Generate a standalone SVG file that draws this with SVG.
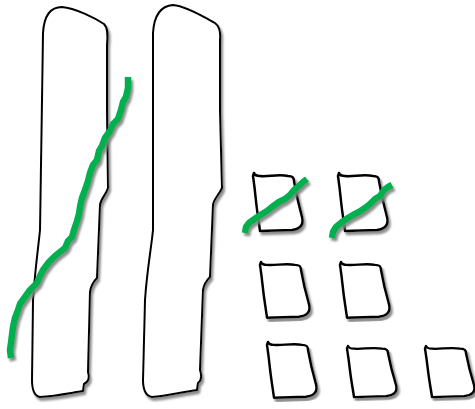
<svg xmlns="http://www.w3.org/2000/svg" xmlns:xlink="http://www.w3.org/1999/xlink" width="475" height="409" viewBox="0 0 475 409">
<defs>
<filter id="sh" x="-20%" y="-20%" width="140%" height="140%">
<feDropShadow dx="2" dy="3" stdDeviation="0.8" flood-color="#808080" flood-opacity="0.9"/>
</filter>
<path id="sq" d="M1,3 L2,0 Q3,3 8,3 C16,4 26,1 36,3 C40,3 42,4 42,8 C44,20 47,33 50,44 C52,52 48,56 40,57 L8,58 C7,50 5,38 4,28 C3,18 2,10 1,3 Z"/>
</defs>
<style>
.out{fill:#fff;stroke:#000;stroke-width:2;stroke-linejoin:round;filter:url(#sh)}
.sm{fill:#fff;stroke:#000;stroke-width:2.5;stroke-linejoin:round;filter:url(#sh)}
.gr{fill:none;stroke:#00b050;stroke-width:6.5;stroke-linejoin:round;filter:url(#sh)}
</style>
<g id="bar1">
<path class="out" d="M43,33 C44,16 50,7 62,7 C75,8 95,18 104,24 C108,28 108,35 107,45 L107,110 L108,188 C106,195 101,198 100,205 L97,278 C93,282 91,285 90,292 L88,372 C90,378 88,382 84,384 L83,391 C70,393 55,396 40,397 C34,396 32,390 32,380 L33,300 C35,270 38,250 40,230 L42,100 Z"/>
</g>
<g id="bar2">
<path class="out" d="M153,33 C154,16 160,6 173,5 C186,6 206,18 215,23 C219,26 221,30 220,40 L220,110 L222,188 C219,195 214,198 213,205 L210,277 C206,281 204,284 203,290 L200,370 C202,376 202,380 198,383 L197,390 C182,392 167,396 152,397 C146,396 143,390 143,380 L145,300 C147,270 151,250 153,230 L153,110 Z"/>
</g>
<g id="sq1"><use xlink:href="#sq" class="sm" transform="translate(252,173)"/></g>
<g id="sq2"><use xlink:href="#sq" class="sm" transform="translate(337,173)"/></g>
<g id="sq3"><use xlink:href="#sq" class="sm" transform="translate(259,262) scale(1,0.96)"/></g>
<g id="sq4"><use xlink:href="#sq" class="sm" transform="translate(339,262) scale(1,0.96)"/></g>
<g id="sq5"><use xlink:href="#sq" class="sm" transform="translate(266,342) scale(1,0.96)"/></g>
<g id="sq6"><use xlink:href="#sq" class="sm" transform="translate(346,346) scale(1,0.88)"/></g>
<g id="sq7"><use xlink:href="#sq" class="sm" transform="translate(424,346) scale(1,0.88)"/></g>
<g id="connectors">
<path class="gr" d="M128,77 L128,88 L126,97 L123,102 L121,110 L118,119 L113,124 L110,131 L105,138 L102,146 L99,151 L97,160 L93,165 L90,173 L88,181 L85,190 L82,198 L80,207 L79,214 L77,221 L74,230 L72,237 L68,241 L65,248 L60,252 L55,256 L49,262 L43,270 L40,276 L37,283 L30,290 L25,297 L20,304 L17,313 L15,318 L13,327 L12,335 L11,343 L10,350 L11,358"/>
<path class="gr" d="M245,233 L246,227 L249,223 L256,218 L262,214 L267,211 L272,207 L279,202 L285,199 L290,195 L294,190 L299,186 L303,182 L307,179"/>
<path class="gr" d="M332,238 L333,232 L336,227 L342,222 L348,218 L353,215 L359,212 L365,208 L370,204 L375,199 L380,196 L384,190 L388,187 L392,185"/>
</g>
</svg>
